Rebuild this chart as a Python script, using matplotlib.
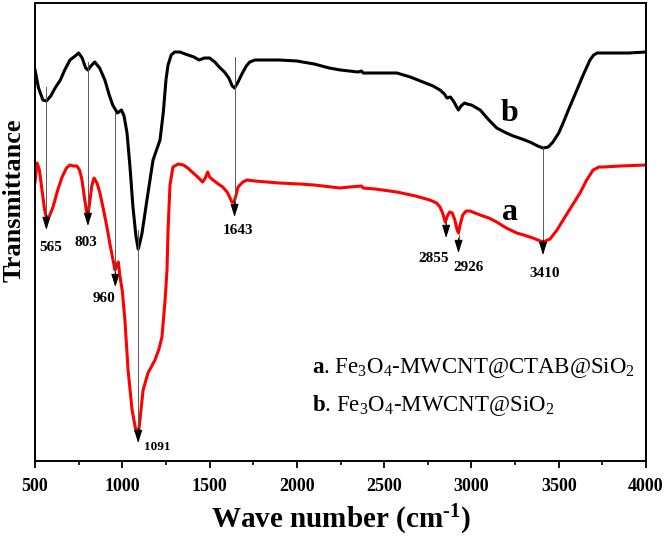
import matplotlib
matplotlib.use("Agg")
import matplotlib.pyplot as plt
from matplotlib.ticker import MultipleLocator

plt.rcParams['font.family'] = 'Liberation Serif'
plt.rcParams['mathtext.fontset'] = 'custom'
plt.rcParams['mathtext.rm'] = 'Liberation Serif'
plt.rcParams['mathtext.bf'] = 'Liberation Serif:bold'
plt.rcParams['mathtext.it'] = 'Liberation Serif:italic'

# curve b: Fe3O4-MWCNT@SiO2 (black)
wn_b = [500, 520, 545, 565, 590, 615, 645, 670, 700, 730, 750, 770, 790, 803, 820,
        842, 870, 900, 925, 945, 972, 995, 1010, 1027, 1044, 1061, 1078, 1091, 1100,
        1113, 1141, 1176, 1216, 1235, 1250, 1262, 1280, 1300, 1330, 1360, 1410, 1440,
        1470, 1500, 1530, 1555, 1585, 1610, 1630, 1643, 1660, 1685, 1710, 1730, 1760,
        1800, 1900, 2000, 2100, 2185, 2250, 2350, 2370, 2380, 2450, 2573, 2650, 2722,
        2780, 2820, 2845, 2860, 2880, 2900, 2925, 2940, 2960, 2975, 3000, 3050, 3100,
        3145, 3200, 3240, 3290, 3335, 3380, 3410, 3440, 3467, 3500, 3525, 3560, 3604,
        3640, 3679, 3700, 3720, 3800, 3900, 4000]
t_b = [391, 373, 361, 360, 365, 373, 381, 391, 401, 405, 408, 403, 393, 391, 395,
       399, 393, 381, 366, 356, 348, 351, 345, 328, 294, 254, 225, 212, 218,
       228, 261, 301, 321, 349, 381, 396, 406, 409, 409, 407, 404, 401,
       403, 403, 399, 394, 389, 383, 375, 373, 378, 387, 395, 399, 401,
       401, 401, 400, 397, 393, 391, 389, 390, 388, 388, 388, 384, 379,
       375, 371, 367, 363, 364, 359, 351, 355, 358, 357, 356, 351, 341,
       333, 328, 325, 322, 319, 315, 313, 314, 319, 328, 338, 353, 371,
       386, 401, 406, 408, 408, 408, 409]

# curve a: Fe3O4-MWCNT@CTAB@SiO2 (red)
wn_a = [500, 512, 525, 540, 555, 569, 585, 603, 630, 655, 680, 700, 720, 740, 755,
        769, 785, 798, 805, 815, 825, 838, 855, 872, 890, 912, 930, 947, 958, 965,
        977, 987, 1000, 1015, 1033, 1056, 1078, 1091, 1101, 1119, 1147, 1187, 1210,
        1227, 1245, 1256, 1262, 1273, 1290, 1320, 1350, 1375, 1400, 1432, 1460, 1475,
        1489, 1500, 1520, 1550, 1575, 1600, 1615, 1627, 1640, 1650, 1663, 1690, 1714,
        1760, 1829, 1900, 2018, 2100, 2247, 2300, 2370, 2380, 2450, 2573, 2680, 2762,
        2800, 2820, 2835, 2850, 2862, 2875, 2890, 2905, 2918, 2926, 2935, 2950, 2970,
        2992, 3050, 3100, 3145, 3200, 3260, 3300, 3352, 3410, 3450, 3490, 3525, 3575,
        3622, 3660, 3697, 3730, 3753, 3850, 4000]
t_a = [279, 298, 291, 271, 251, 241, 246, 254, 271, 284, 293, 296, 295, 295, 291,
       281, 261, 246, 248, 261, 275, 283, 278, 268, 253, 234, 216, 201, 191, 194,
       199, 184, 170, 141, 91, 51, 30, 26, 41, 71, 88, 101, 112,
       124, 161, 191, 231, 276, 294, 297, 296, 293, 289, 284, 279, 283,
       289, 284, 281, 277, 274, 269, 264, 259, 259, 265, 274, 279, 281,
       280, 279, 278, 277, 276, 273, 274, 275, 273, 272, 269, 265, 261,
       258, 254, 248, 239, 245, 249, 248, 241, 231, 228, 236, 246, 250,
       250, 246, 243, 239, 233, 228, 226, 223, 219, 222, 231, 241, 255,
       268, 281, 291, 294, 294, 295, 296]

# peak markers: wavenumber, line top, arrow tip, label x, label y, label size
peaks = [565, 803, 960, 1091, 1643, 2855, 2926, 3410]
line_top = [374, 399, 349, 231, 404, 239, 226, 313]
arrow_tip = [231, 235, 174, 18, 244, 223, 208, 206]
label_x = [592, 792, 895, 1199, 1663, 2785, 2985, 3421]
label_y = [214, 219, 163, 14, 231, 203, 194, 188]
label_fs = [11, 11, 11, 9.5, 11, 11, 11, 11]

fig = plt.figure(figsize=(6.66, 5.45), dpi=100)
ax = fig.add_axes([0.0526, 0.154, 0.9174, 0.8405])

ax.plot(wn_b, t_b, color='black', lw=2.2)
ax.plot(wn_a, t_a, color='#ff0000', lw=2.2)

for wn, top, tip, lx, ly, fs in zip(peaks, line_top, arrow_tip, label_x, label_y, label_fs):
    ax.plot([wn, wn], [top, tip + 8], color='0.35', lw=0.7)
    ax.annotate('', xy=(wn, tip), xytext=(wn, tip + 15),
                arrowprops=dict(arrowstyle='-|>,head_length=0.8,head_width=0.25',
                                color='black', lw=0.7, shrinkA=0, shrinkB=0))
    ax.text(lx, ly, str(wn), ha='center', va='center', fontsize=fs, fontweight='bold')

ax.text(3220, 348, 'b', ha='center', va='center', fontsize=23, fontweight='bold')
ax.text(3220, 249, 'a', ha='center', va='center', fontsize=23, fontweight='bold')

ax.text(2087, 93, r'$\mathbf{a}$. Fe$_3$O$_4$-MWCNT@CTAB@SiO$_2$',
        ha='left', va='center', fontsize=16.5)
ax.text(2087, 56, r'$\mathbf{b}$. Fe$_3$O$_4$-MWCNT@SiO$_2$',
        ha='left', va='center', fontsize=16.5)

ax.set_xlim(500, 4000)
ax.set_ylim(0, 458)
ax.xaxis.set_major_locator(MultipleLocator(500))
ax.xaxis.set_minor_locator(MultipleLocator(250))
ax.set_yticks([])
ax.tick_params(axis='x', which='major', direction='out', length=5, width=1.3,
               labelsize=13, pad=7)
ax.tick_params(axis='x', which='minor', direction='out', length=3, width=1.2)
for lab in ax.get_xticklabels():
    lab.set_fontweight('bold')
for sp in ax.spines.values():
    sp.set_linewidth(1.4)

ax.set_xlabel(r'Wave number (cm$^{\mathbf{\text{-}1}}$)', fontsize=21,
              fontweight='bold', labelpad=6)
ax.set_ylabel('Transmittance', fontsize=19, fontweight='bold')
ax.yaxis.set_label_coords(-0.015, 0.57)

fig.savefig('out.png', dpi=100)
